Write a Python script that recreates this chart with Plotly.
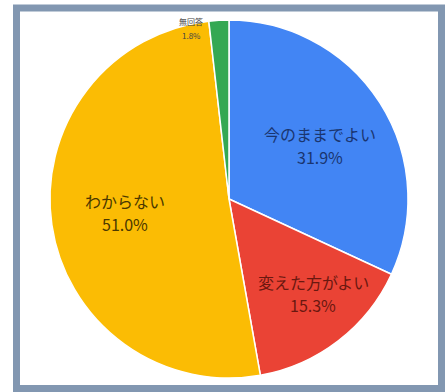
import plotly.graph_objects as go

labels = ["今のままでよい", "変えた方がよい", "わからない", "無回答"]
values = [31.9, 15.3, 51.0, 1.8]
colors = ["#4285f4", "#ea4335", "#fbbc04", "#34a853"]
text_colors = ["#1a3570", "#6a1810", "#4a3800", "#444444"]

W, H = 447, 392

def px(x, y):
    return x / W, 1 - y / H

fig = go.Figure(go.Pie(
    labels=labels, values=values, sort=False, direction="clockwise", rotation=0,
    marker=dict(colors=colors, line=dict(color="white", width=1.5)),
    textinfo="none", hoverinfo="label+percent", showlegend=False,
    domain=dict(x=[50 / W, 408 / W], y=[1 - 378 / H, 1 - 20 / H]),
))

# label placement: (x centre, y of name line, y of percent line, font size)
label_pos = [(320, 134, 157, 16), (313, 282, 305, 16), (125, 201, 224, 16), (191, 21, 35, 8)]
for lab, val, col, (x, yl, yv, fs) in zip(labels, values, text_colors, label_pos):
    for txt, y in ((lab, yl), (f"{val:.1f}%", yv)):
        ax, ay = px(x, y)
        fig.add_annotation(x=ax, y=ay, xref="paper", yref="paper", showarrow=False,
                           xanchor="center", yanchor="middle", text=txt, borderpad=0,
                           font=dict(size=fs, color=col, family="Noto Sans CJK JP"))

# frame
x0, y0 = px(16.5, 388.5)
x1, y1 = px(441.5, 8)
fig.add_shape(type="rect", xref="paper", yref="paper", x0=x0, y0=y0, x1=x1, y1=y1,
              line=dict(color="#8297b1", width=7), layer="above")

fig.update_layout(width=W, height=H, margin=dict(l=0, r=0, t=0, b=0),
                  paper_bgcolor="white", plot_bgcolor="white")
fig.write_html("out.html")
